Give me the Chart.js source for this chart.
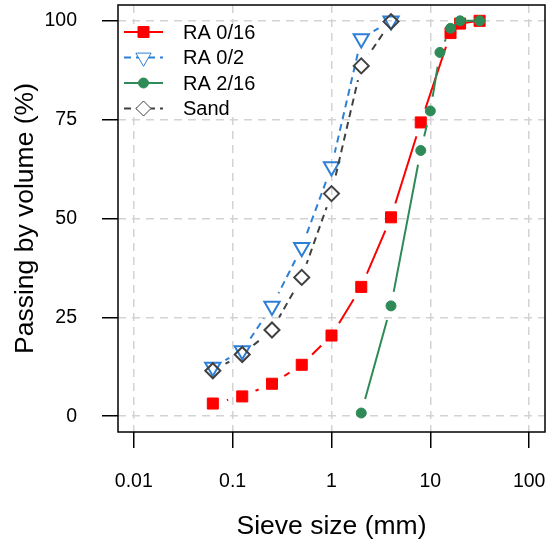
<!DOCTYPE html>
<html><head><meta charset="utf-8">
<script src="https://cdn.jsdelivr.net/npm/chart.js@4/dist/chart.umd.min.js"></script>
<style>html,body{margin:0;padding:0;background:#fff}#wrap{width:549px;height:546px}</style>
</head><body><div id="wrap"><canvas id="c" width="549" height="546"></canvas></div>
<script>
// ---- data ----
const sievesFine = [0.063, 0.125, 0.25, 0.5, 1, 2, 4];
const sievesRA016 = [0.063, 0.125, 0.25, 0.5, 1, 2, 4, 8, 16, 20, 31.5];
const passRA016 = [3.2, 5.0, 8.2, 13.0, 20.4, 32.7, 50.3, 74.3, 96.9, 99.3, 100];
const passRA02 = [12.4, 16.6, 27.8, 42.7, 63.1, 95.5, 100];
const sievesRA216 = [2, 4, 8, 10, 12.5, 16, 20, 31.5];
const passRA216 = [0.8, 27.9, 67.2, 77.2, 92.0, 98.1, 100, 100];
const passSand = [11.5, 15.6, 21.8, 35.1, 56.3, 88.6, 99.8];
const xTicks = [0.01, 0.1, 1, 10, 100];
const yTicks = [0, 25, 50, 75, 100];
const seriesNames = ['RA 0/16', 'RA 0/2', 'RA 2/16', 'Sand'];
const xTitle = 'Sieve size (mm)';
const yTitle = 'Passing by volume (%)';

const FONT = 'Liberation Sans, Arial, sans-serif';
function pts(xs, ys) { return xs.map((x, i) => ({x: x, y: ys[i]})); }

const series = [
  {name: seriesNames[0], data: pts(sievesRA016, passRA016), color: '#ff0000', dash: [], style: 'rect', rot: 0, radius: 7.8, fill: true, bw: 1},
  {name: seriesNames[1], data: pts(sievesFine, passRA02), color: '#2e7fd6', dash: [7, 5], style: 'triangle', rot: 180, radius: 8.8, fill: false, bw: 2},
  {name: seriesNames[2], data: pts(sievesRA216, passRA216), color: '#2e8b57', dash: [], style: 'circle', rot: 0, radius: 5, fill: true, bw: 1},
  {name: seriesNames[3], data: pts(sievesFine, passSand), color: '#404040', dash: [7, 5], style: 'rectRot', rot: 0, radius: 7.5, fill: false, bw: 2}
];

const datasets = [];
series.forEach((s, i) => {
  datasets.push({
    label: s.name, data: s.data, showLine: true, pointRadius: 0, pointHoverRadius: 0,
    borderColor: s.color, borderWidth: 2, borderDash: s.dash, fill: false, tension: 0,
    gapRadius: 14.5, order: (3 - i) * 2 + 1, isLine: true
  });
  datasets.push({
    label: s.name, data: s.data, showLine: false, pointStyle: s.style, pointRotation: s.rot,
    pointRadius: s.radius, pointHoverRadius: s.radius, pointBorderWidth: s.bw,
    pointBorderColor: s.color, pointBackgroundColor: s.fill ? s.color : 'rgba(0,0,0,0)',
    order: (3 - i) * 2
  });
});

const gapPlugin = {
  id: 'gaps',
  beforeDatasetDraw(chart, args) {
    const ds = chart.data.datasets[args.index];
    if (!ds.gapRadius) return;
    const ctx = chart.ctx, r = ds.gapRadius;
    ctx.save();
    ctx.beginPath();
    ctx.rect(0, 0, chart.width, chart.height);
    args.meta.data.forEach(p => { ctx.moveTo(p.x + r, p.y); ctx.arc(p.x, p.y, r, 0, Math.PI * 2); });
    ctx.clip('evenodd');
  },
  afterDatasetDraw(chart, args) {
    const ds = chart.data.datasets[args.index];
    if (ds.gapRadius) chart.ctx.restore();
  }
};

const boxLegendPlugin = {
  id: 'boxLegend',
  afterDatasetsDraw(chart) {
    const ctx = chart.ctx, a = chart.chartArea;
    ctx.save();
    ctx.fillStyle = '#ffffff';
    ctx.fillRect(a.left + 1, 24, 150, 92);
    const rowY = [32, 57.5, 83, 108.5];
    series.forEach((s, i) => {
      const y = rowY[i];
      ctx.save();
      ctx.strokeStyle = s.color; ctx.lineWidth = 2; ctx.setLineDash(s.dash);
      ctx.beginPath(); ctx.moveTo(124, y); ctx.lineTo(163, y); ctx.stroke();
      ctx.restore();
      ctx.save();
      ctx.fillStyle = s.fill ? s.color : '#ffffff';
      ctx.strokeStyle = s.color;
      Chart.helpers.drawPoint(ctx, {pointStyle: s.style, rotation: s.rot, radius: s.radius, borderWidth: s.bw}, 143.5, y);
      ctx.restore();
      ctx.fillStyle = '#000'; ctx.font = '20px ' + FONT; ctx.textBaseline = 'middle'; ctx.textAlign = 'left';
      ctx.fillText(s.name, 183, y + 1);
    });
    ctx.strokeStyle = '#000'; ctx.lineWidth = 1.5; ctx.setLineDash([]);
    ctx.strokeRect(a.left, a.top, a.right - a.left, a.bottom - a.top);
    ctx.restore();
  }
};

new Chart(document.getElementById('c'), {
  type: 'line',
  data: {datasets: datasets},
  plugins: [gapPlugin, boxLegendPlugin],
  options: {
    responsive: false, animation: false, devicePixelRatio: 1,
    layout: {autoPadding: false, padding: {left: 0, right: 4, top: 5, bottom: 0}},
    plugins: {legend: {display: false}, tooltip: {enabled: false}},
    events: [],
    scales: {
      x: {
        type: 'logarithmic', min: Math.pow(10, -2.16), max: Math.pow(10, 2.16),
        afterBuildTicks: s => { s.ticks = xTicks.map(v => ({value: v})); },
        afterFit: s => { s.height = 114; s.paddingLeft = 0; s.paddingRight = 0; },
        ticks: {callback: v => String(v), font: {family: FONT, size: 19.5}, color: '#000', padding: 22, autoSkip: false, maxRotation: 0, minRotation: 0},
        grid: {color: '#d3d3d3', lineWidth: 1.5, drawTicks: true, tickLength: 16, tickColor: '#000', tickWidth: 1.5, tickBorderDash: []},
        border: {display: false, dash: [8, 6]},
        title: {display: true, text: xTitle, color: '#000', font: {family: FONT, size: 26.5, lineHeight: 1}, padding: {top: 0, bottom: 6}}
      },
      y: {
        type: 'linear', min: -4, max: 104,
        afterBuildTicks: s => { s.ticks = yTicks.map(v => ({value: v})); },
        afterFit: s => { s.width = 118; s.paddingTop = 0; s.paddingBottom = 0; },
        ticks: {callback: v => String(v), font: {family: FONT, size: 19.5}, color: '#000', padding: 25},
        grid: {color: '#d3d3d3', lineWidth: 1.5, drawTicks: true, tickLength: 16, tickColor: '#000', tickWidth: 1.5, tickBorderDash: []},
        border: {display: false, dash: [8, 6]},
        title: {display: true, text: yTitle, color: '#000', font: {family: FONT, size: 26.5, lineHeight: 1}, padding: {top: 12, bottom: 0}}
      }
    }
  }
});
</script>
</body></html>
